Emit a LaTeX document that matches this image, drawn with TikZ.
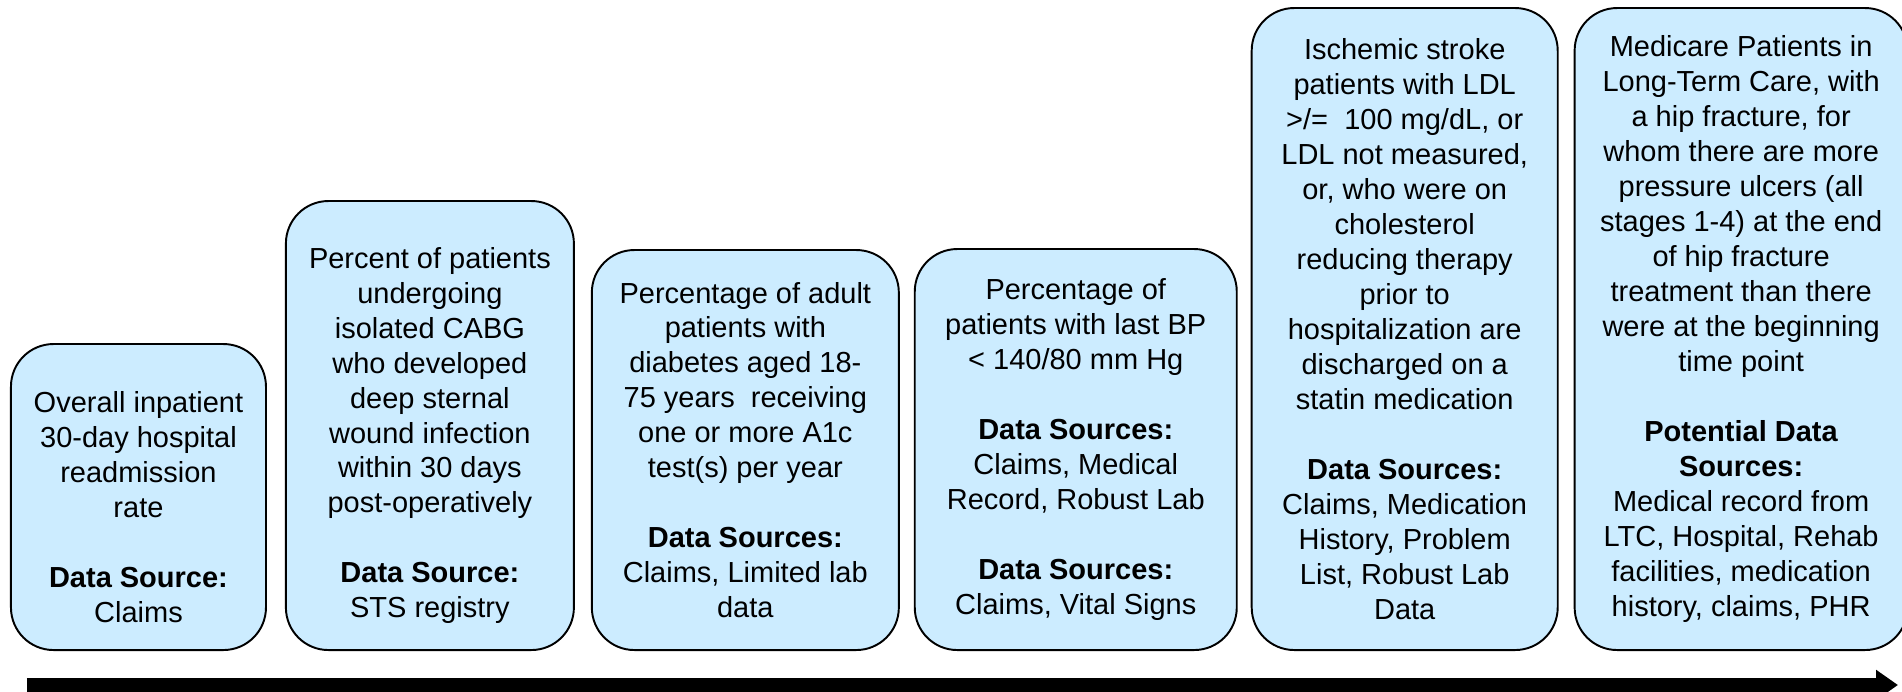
\documentclass[tikz,border=0pt]{standalone}
\usepackage{fontspec}
\setmainfont{Liberation Sans}
\usepackage{xcolor}
\usetikzlibrary{positioning, arrows.meta}

\definecolor{boxblue}{RGB}{204,236,255}
\newcommand{\blankline}{\\[0.7cm]}
% taller first line, pushes the text a little lower in its box
\newcommand{\dropline}{\rule{0pt}{0.82cm}}

\begin{document}
\begin{tikzpicture}[
    measure/.style={draw=black, line width=1.1pt, fill=boxblue, rounded corners=0.85cm,
        align=center, inner sep=0pt, anchor=south west,
        font=\fontsize{16.5}{19.9}\selectfont}
]
\useasboundingbox (0,0) rectangle (38.04,13.82);

% measures, left to right, all standing on the same base line
\node[measure, minimum width=5.1cm, minimum height=6.12cm] (readmit) at (0.2,0.8)
    {\dropline Overall inpatient\\30-day hospital\\readmission\\rate\blankline
     \textbf{Data Source:}\\Claims};

\node[measure, minimum width=5.76cm, minimum height=8.98cm,
      right=0.36cm of readmit.south east, anchor=south west] (cabg)
    {\dropline Percent of patients\\undergoing\\isolated CABG\\who developed\\deep sternal\\
     wound infection\\within 30 days\\post-operatively\blankline
     \textbf{Data Source:}\\STS registry};

\node[measure, minimum width=6.14cm, minimum height=8.0cm,
      right=0.32cm of cabg.south east, anchor=south west] (aonec)
    {Percentage of adult\\patients with\\diabetes aged 18-\\75 years\ \ receiving\\
     one or more A1c\\test(s) per year\blankline
     \textbf{Data Sources:}\\Claims, Limited lab\\data};

\node[measure, minimum width=6.44cm, minimum height=8.02cm,
      right=0.28cm of aonec.south east, anchor=south west] (bp)
    {Percentage of\\patients with last BP\\< 140/80 mm Hg\blankline
     \textbf{Data Sources:}\\Claims, Medical\\Record, Robust Lab\blankline
     \textbf{Data Sources:}\\Claims, Vital Signs};

\node[measure, minimum width=6.12cm, minimum height=12.84cm,
      right=0.26cm of bp.south east, anchor=south west] (statin)
    {Ischemic stroke\\patients with LDL\\>/=\ \ 100 mg/dL, or\\LDL not measured,\\
     or, who were on\\cholesterol\\reducing therapy\\prior to\\hospitalization are\\
     discharged on a\\statin medication\blankline
     \textbf{Data Sources:}\\Claims, Medication\\History, Problem\\List, Robust Lab\\Data};

\node[measure, minimum width=6.66cm, minimum height=12.84cm,
      right=0.3cm of statin.south east, anchor=south west] (ulcer)
    {Medicare Patients in\\Long-Term Care, with\\a hip fracture, for\\whom there are more\\
     pressure ulcers (all\\stages 1-4) at the end\\of hip fracture\\treatment than there\\
     were at the beginning\\time point\blankline
     \textbf{Potential Data}\\\textbf{Sources:}\\Medical record from\\LTC, Hospital, Rehab\\
     facilities, medication\\history, claims, PHR};

% timeline arrow under the boxes
\coordinate (tstart) at (0.54,0.12);
\coordinate (tend) at (37.96,0.12);
\draw[line width=0.28cm, -{Triangle[length=0.44cm, width=0.58cm]}] (tstart) -- (tend);
\end{tikzpicture}
\end{document}
